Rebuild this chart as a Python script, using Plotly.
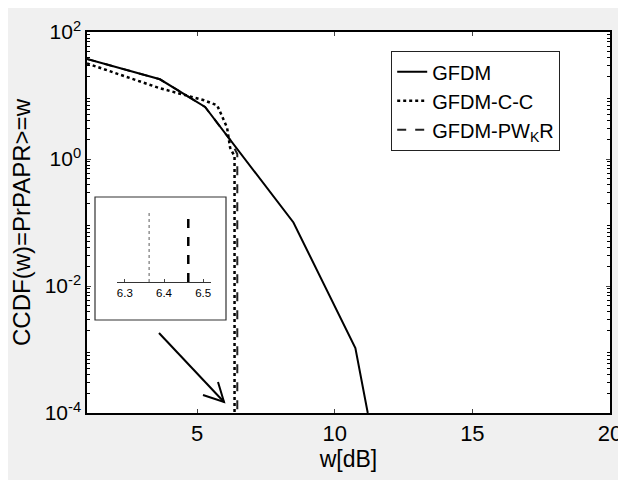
import plotly.graph_objects as go

# ---- data ----
w_gfdm = [1.0, 3.65, 5.29, 8.5, 10.75, 11.2]
ccdf_gfdm = [37.6, 18.0, 6.6, 0.1, 0.00105, 0.0001]

w_cc = [1.0, 3.65, 5.22, 5.73, 6.09, 6.2, 6.36, 6.36]
ccdf_cc = [32.0, 13.0, 8.5, 7.0, 3.1, 1.5, 1.1, 0.0001]

w_pwkr = [1.0, 3.65, 5.29, 6.2, 6.46, 6.46]
ccdf_pwkr = [37.6, 18.0, 6.6, 2.0, 1.2, 0.0001]

inset_cc = 6.362
inset_pwkr = 6.462
inset_ticks = [6.3, 6.4, 6.5]

x_ticks = [5, 10, 15, 20]
y_ticks = [1e-4, 1e-2, 1e0, 1e2]
y_ticktext = ["10<sup>-4</sup>", "10<sup>-2</sup>", "10<sup>0</sup>", "10<sup>2</sup>"]
y_minor = [m * 10.0 ** e for e in range(-4, 2) for m in range(2, 10)]

FONT = "Liberation Sans, Arial, sans-serif"

# page offset (body margin) and figure size
OFF = 8
W, H = 626 - OFF, 480 - OFF
# plot-area in page pixels (for decorations only)
L, R, T, B = 87, 610, 32, 413
def px(x):
    return (x - L) / (R - L)
def py(y):
    return 1 - (y - T) / (B - T)

fig = go.Figure()

# dashed first so the solid sits on top
fig.add_trace(go.Scatter(x=w_pwkr, y=ccdf_pwkr, mode="lines", name="GFDM-PW<sub>K</sub>R",
                         line=dict(color="#222222", width=2, dash="dash"), legendrank=3))
fig.add_trace(go.Scatter(x=w_cc, y=ccdf_cc, mode="lines", name="GFDM-C-C",
                         line=dict(color="black", width=2.5, dash="dot"), legendrank=2))
fig.add_trace(go.Scatter(x=w_gfdm, y=ccdf_gfdm, mode="lines", name="GFDM",
                         line=dict(color="black", width=2), legendrank=1))

# inset traces
fig.add_trace(go.Scatter(x=[inset_cc, inset_cc], y=[0, 1], mode="lines", showlegend=False,
                         line=dict(color="#777777", width=1.2, dash="dot"),
                         xaxis="x2", yaxis="y2"))
fig.add_trace(go.Scatter(x=[inset_pwkr, inset_pwkr], y=[0, 1], mode="lines", showlegend=False,
                         line=dict(color="black", width=2.5, dash="dash"),
                         xaxis="x2", yaxis="y2"))

shapes = []
# inset box
shapes.append(dict(type="rect", xref="paper", yref="paper", x0=px(95), x1=px(226), y0=py(320), y1=py(197),
                   fillcolor="white", line=dict(color="#333333", width=1.2), layer="below"))
# arrow
shapes.append(dict(type="line", xref="paper", yref="paper", x0=px(159), y0=py(333), x1=px(224), y1=py(402),
                   line=dict(color="black", width=2)))
shapes.append(dict(type="path", xref="paper", yref="paper",
                   path=f"M {px(218)},{py(382)} L {px(224)},{py(402)} L {px(203)},{py(395)}",
                   line=dict(color="black", width=2)))

fig.update_layout(
    width=W, height=H,
    margin=dict(l=L - OFF, r=W - (R - OFF), t=T - OFF, b=H - (B - OFF), autoexpand=False),
    paper_bgcolor="#f0f0f0", plot_bgcolor="white",
    font=dict(family=FONT, color="black", size=20),
    showlegend=True,
    legend=dict(x=px(391), y=py(51), xanchor="left", yanchor="top",
                bgcolor="white", bordercolor="#222222", borderwidth=1.2,
                font=dict(size=20, family=FONT), tracegroupgap=0, itemwidth=30),
    xaxis=dict(range=[1, 20], tickvals=x_ticks, ticks="inside", ticklen=4, automargin=False,
               showline=True, linecolor="black", linewidth=1.5, mirror="ticks",
               showgrid=False, zeroline=False, tickfont=dict(size=22),
               title=dict(text="w[dB]", font=dict(size=23), standoff=4)),
    yaxis=dict(type="log", range=[-4, 2], tickmode="array", tickvals=y_ticks, ticktext=y_ticktext,
               ticks="inside", ticklen=4, automargin=False,
               minor=dict(tickmode="array", tickvals=y_minor, ticks="inside", ticklen=3,
                          tickcolor="black", showgrid=False),
               showline=True, linecolor="black", linewidth=1.5, mirror="ticks",
               showgrid=False, zeroline=False, tickfont=dict(size=21),
               title=dict(text="CCDF(w)=PrPAPR>=w", font=dict(size=24), standoff=8)),
    xaxis2=dict(domain=[px(117), px(211)], anchor="y2", range=[6.28, 6.52], automargin=False,
                tickvals=inset_ticks, ticktext=[f"{v:.1f}" for v in inset_ticks],
                ticks="inside", ticklen=3, showline=True, linecolor="#333333", linewidth=1.2,
                showgrid=False, zeroline=False,
                tickfont=dict(size=11.5, family="Liberation Sans Narrow, Arial Narrow, sans-serif")),
    yaxis2=dict(domain=[py(282), py(210)], anchor="x2", range=[0, 1], visible=False),
    shapes=shapes,
)

fig.write_html("out.html")
